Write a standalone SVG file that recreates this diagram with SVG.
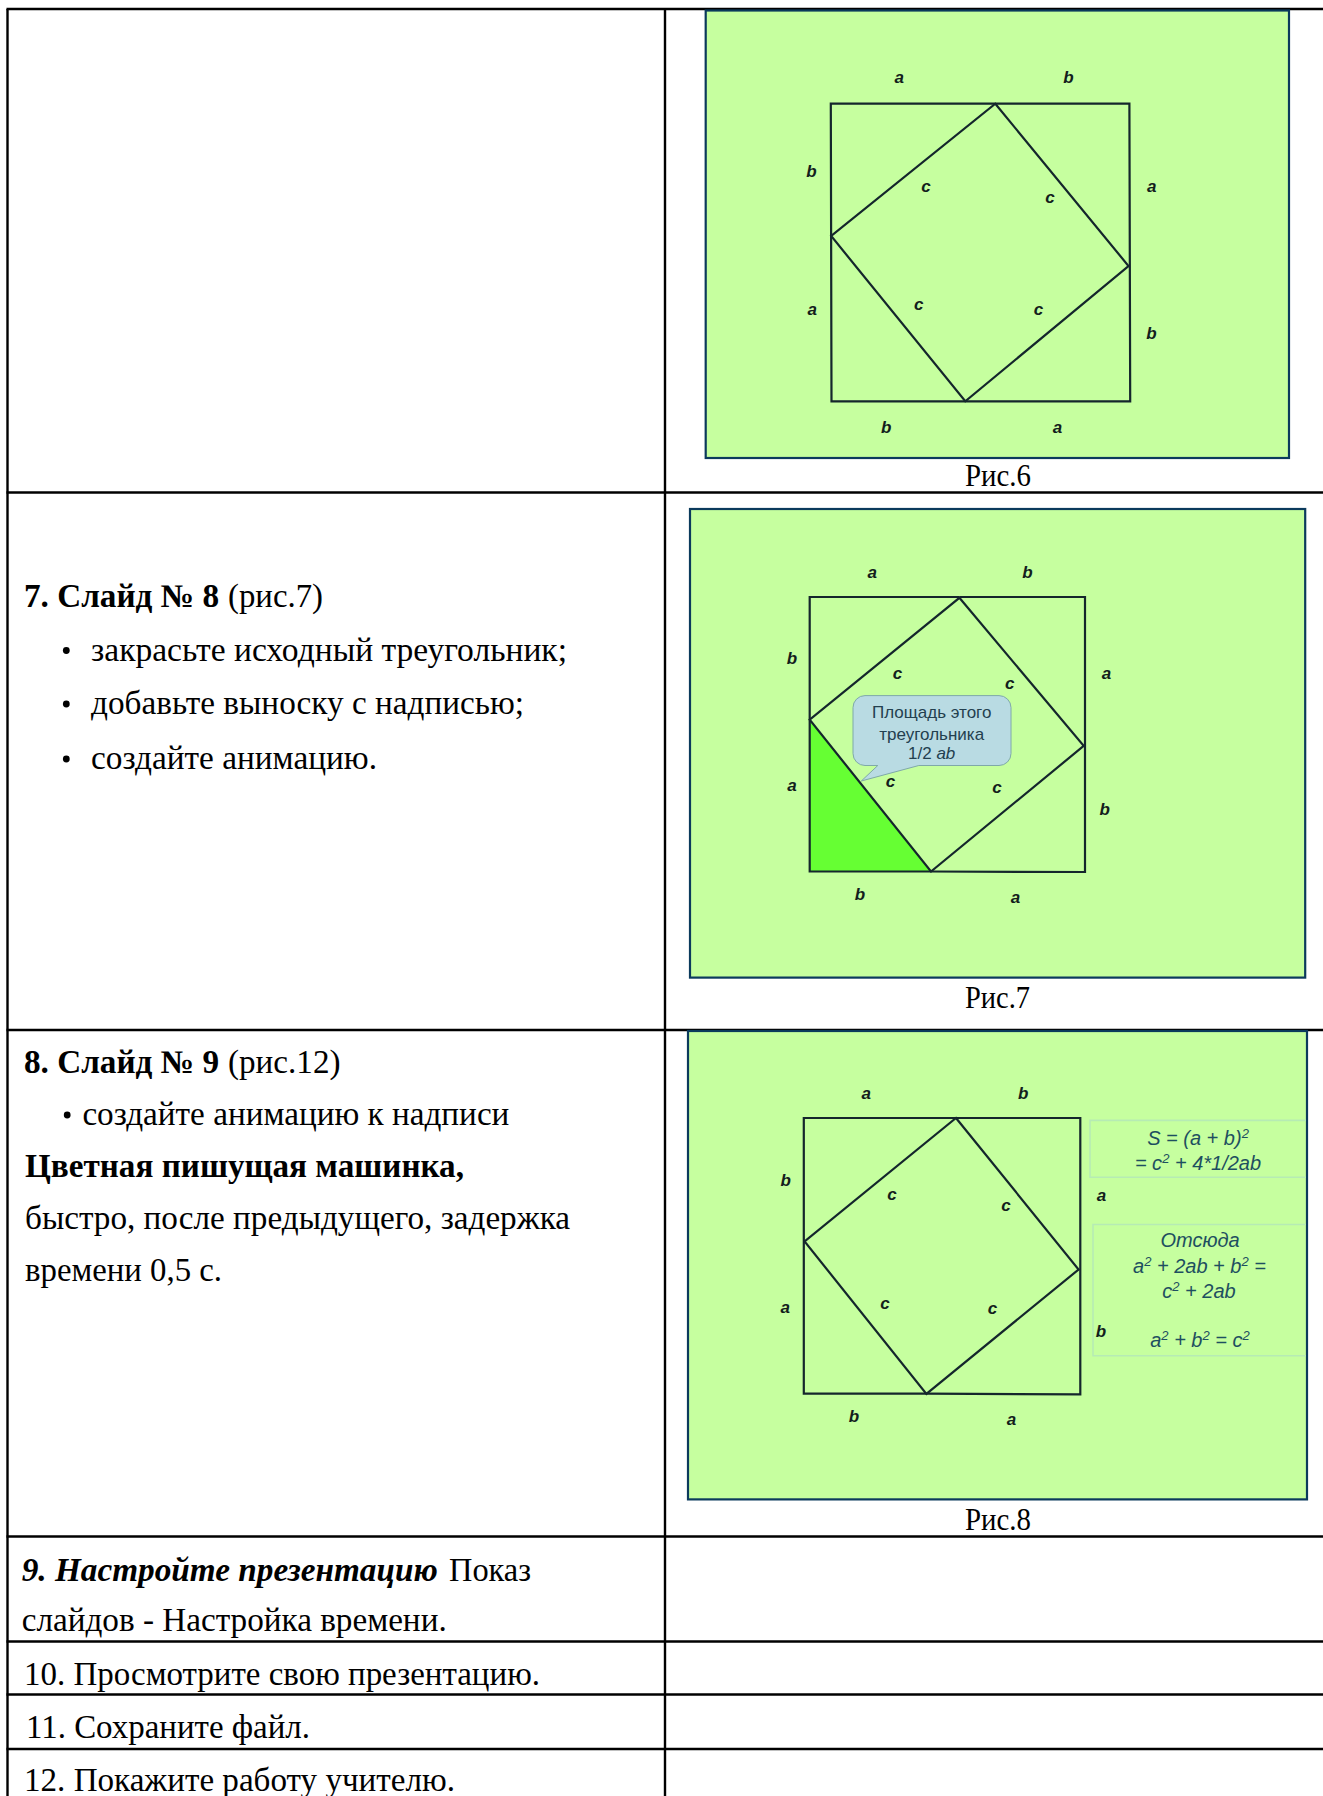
<svg xmlns="http://www.w3.org/2000/svg" width="1323" height="1796" viewBox="0 0 1323 1796">
<style>
.t{font-family:"Liberation Serif","Times New Roman",serif;font-size:33px;fill:#000}
.b{font-weight:bold}
.bi{font-weight:bold;font-style:italic}
.cap{font-family:"Liberation Serif","Times New Roman",serif;font-size:32px;fill:#000}
.grid{stroke:#000;stroke-width:2.4;fill:none}
.slide{fill:#c6ff9f;stroke:#0b3a5c;stroke-width:2.2}
.ln{stroke:#14262c;stroke-width:2.2;fill:none;stroke-linejoin:miter}
.l{font-family:"Liberation Sans",Arial,sans-serif;font-size:17px;font-weight:bold;font-style:italic;fill:#12201c;text-anchor:middle}
.f{font-family:"Liberation Sans",Arial,sans-serif;font-size:20px;font-style:italic;fill:#1e4f60;text-anchor:middle}
.s{font-size:13px;baseline-shift:7px}
.box{fill:none;stroke:#b6ebb4;stroke-width:1.6}
.co{font-family:"Liberation Sans",Arial,sans-serif;font-size:17px;fill:#23404f;text-anchor:middle}
</style>

<g id="table-grid" class="grid">
<line x1="7.5" y1="9" x2="7.5" y2="1796"/>
<line x1="665" y1="9" x2="665" y2="1796"/>
<line x1="6.5" y1="9" x2="1323" y2="9"/>
<line x1="6.5" y1="492.5" x2="1323" y2="492.5"/>
<line x1="6.5" y1="1030" x2="1323" y2="1030"/>
<line x1="6.5" y1="1536.5" x2="1323" y2="1536.5"/>
<line x1="6.5" y1="1641.5" x2="1323" y2="1641.5"/>
<line x1="6.5" y1="1694.5" x2="1323" y2="1694.5"/>
<line x1="6.5" y1="1749" x2="1323" y2="1749"/>
</g>

<g id="left-text">
<text class="t b" x="24" y="607" textLength="195" lengthAdjust="spacingAndGlyphs">7. Слайд № 8</text>
<text class="t" x="228" y="607" textLength="95" lengthAdjust="spacingAndGlyphs">(рис.7)</text>
<circle cx="66.3" cy="650.5" r="3.4" fill="#000"/>
<text class="t" x="91" y="661" textLength="476" lengthAdjust="spacingAndGlyphs">закрасьте исходный треугольник;</text>
<circle cx="66.3" cy="704" r="3.4" fill="#000"/>
<text class="t" x="91" y="714.3" textLength="433" lengthAdjust="spacingAndGlyphs">добавьте выноску с надписью;</text>
<circle cx="66.3" cy="759" r="3.4" fill="#000"/>
<text class="t" x="91" y="769.3" textLength="286" lengthAdjust="spacingAndGlyphs">создайте анимацию.</text>

<text class="t b" x="24" y="1073.3" textLength="195" lengthAdjust="spacingAndGlyphs">8. Слайд № 9</text>
<text class="t" x="228" y="1073.3" textLength="112.5" lengthAdjust="spacingAndGlyphs">(рис.12)</text>
<circle cx="67.2" cy="1115" r="3.4" fill="#000"/>
<text class="t" x="82.4" y="1125.3" textLength="427" lengthAdjust="spacingAndGlyphs">создайте анимацию к надписи</text>
<text class="t b" x="25" y="1176.7" textLength="439" lengthAdjust="spacingAndGlyphs">Цветная пишущая машинка,</text>
<text class="t" x="25" y="1229.3" textLength="545" lengthAdjust="spacingAndGlyphs">быстро, после предыдущего, задержка</text>
<text class="t" x="25" y="1281" textLength="197" lengthAdjust="spacingAndGlyphs">времени 0,5 с.</text>

<text class="t bi" x="21.7" y="1581" textLength="416" lengthAdjust="spacingAndGlyphs">9. Настройте презентацию</text>
<text class="t" x="449" y="1581" textLength="82" lengthAdjust="spacingAndGlyphs">Показ</text>
<text class="t" x="21.7" y="1631" textLength="425" lengthAdjust="spacingAndGlyphs">слайдов - Настройка времени.</text>
<text class="t" x="24" y="1685.3" textLength="516" lengthAdjust="spacingAndGlyphs">10. Просмотрите свою презентацию.</text>
<text class="t" x="26" y="1738.3" textLength="284" lengthAdjust="spacingAndGlyphs">11. Сохраните файл.</text>
<text class="t" x="24" y="1791" textLength="431" lengthAdjust="spacingAndGlyphs">12. Покажите работу учителю.</text>
</g>

<g id="slide-6">
<rect class="slide" x="705.7" y="10.5" width="583.3" height="447.5"/>
<polyline class="ln" points="995.3,103.7 830.8,103.7 831.5,401.3 965.3,401.3"/>
<polyline class="ln" points="995.3,103.7 1129.4,103.7 1130.2,401.3 965.3,401.3"/>
<polygon class="ln" points="995.3,103.7 1128.5,266 965.3,401.3 831.2,236"/>
<text class="l" x="899.3" y="83">a</text><text class="l" x="1068.5" y="82.5">b</text>
<text class="l" x="811.4" y="176.7">b</text><text class="l" x="926" y="191.7">c</text>
<text class="l" x="1049.9" y="203">c</text><text class="l" x="1151.8" y="191.7">a</text>
<text class="l" x="812.2" y="314.7">a</text><text class="l" x="918.8" y="309.7">c</text>
<text class="l" x="1038.4" y="314.7">c</text><text class="l" x="1151.4" y="339">b</text>
<text class="l" x="886.2" y="432.7">b</text><text class="l" x="1057.5" y="433.4">a</text>
<text class="cap" x="965" y="486" textLength="66" lengthAdjust="spacingAndGlyphs">Рис.6</text>
</g>

<g id="slide-7">
<rect class="slide" x="690" y="509" width="615.2" height="468.6"/>
<polygon points="809.7,719.7 931,871.5 809.7,871.5" fill="#66ff33"/>
<polyline class="ln" points="959.4,597 809.7,597 809.7,871.5 931,871.5"/>
<polyline class="ln" points="959.4,597 1085,597 1085,872 931,871.5"/>
<polygon class="ln" points="959.4,597.8 1083.7,745.9 931,871.5 809.7,719.7"/>
<path d="M865,695.6H999a12,12 0 0 1 12,12V753.5a12,12 0 0 1 -12,12H918.8L861.3,781L877.8,765.5H865a12,12 0 0 1 -12,-12V707.6a12,12 0 0 1 12,-12Z" fill="#b9dbe3" stroke="#7fa9a8" stroke-width="1"/>
<text class="co" x="931.7" y="718">Площадь этого</text>
<text class="co" x="931.7" y="739.5">треугольника</text>
<text class="co" x="931.7" y="759">1/2 <tspan font-style="italic">ab</tspan></text>
<text class="l" x="872.3" y="577.7">a</text><text class="l" x="1027.4" y="577.7">b</text>
<text class="l" x="791.9" y="664.4">b</text><text class="l" x="897.6" y="678.9">c</text>
<text class="l" x="1009.7" y="689.2">c</text><text class="l" x="1106.5" y="678.9">a</text>
<text class="l" x="791.9" y="791.2">a</text><text class="l" x="890.4" y="787">c</text>
<text class="l" x="997" y="792.5">c</text><text class="l" x="1104.8" y="815.3">b</text>
<text class="l" x="860" y="900.3">b</text><text class="l" x="1015.6" y="902.7">a</text>
<text class="cap" x="965" y="1007.5" textLength="65" lengthAdjust="spacingAndGlyphs">Рис.7</text>
</g>

<g id="slide-8">
<rect class="slide" x="688" y="1031" width="619" height="468.4"/>
<polyline class="ln" points="956,1118 803.8,1118 803.8,1393.6 926.4,1393.6"/>
<polyline class="ln" points="956,1118 1080.3,1118 1080.3,1394.4 926.4,1393.6"/>
<polygon class="ln" points="956,1118 1078.6,1269.5 926.4,1393.9 804.6,1241.4"/>
<text class="l" x="866.3" y="1099.1">a</text><text class="l" x="1023.2" y="1099.1">b</text>
<text class="l" x="785.6" y="1186.3">b</text><text class="l" x="892.1" y="1199.7">c</text>
<text class="l" x="1005.9" y="1211">c</text><text class="l" x="1101.4" y="1200.7">a</text>
<text class="l" x="785.2" y="1313.1">a</text><text class="l" x="885" y="1309">c</text>
<text class="l" x="992.4" y="1314.1">c</text><text class="l" x="1101" y="1337.1">b</text>
<text class="l" x="854" y="1421.9">b</text><text class="l" x="1011.4" y="1424.7">a</text>
<path class="box" d="M1306,1120.4H1090V1177.2H1306"/>
<path class="box" d="M1306,1224.5H1093V1355.7H1306"/>
<text class="f" x="1198" y="1145">S = (a + b)<tspan class="s">2</tspan></text>
<text class="f" x="1198" y="1170">= c<tspan class="s">2</tspan> + 4*1/2ab</text>
<text class="f" x="1200" y="1247.4">Отсюда</text>
<text class="f" x="1199.5" y="1273.4">a<tspan class="s">2</tspan> + 2ab + b<tspan class="s">2</tspan> =</text>
<text class="f" x="1199" y="1298.4">c<tspan class="s">2</tspan> + 2ab</text>
<text class="f" x="1200" y="1346.7">a<tspan class="s">2</tspan> + b<tspan class="s">2</tspan> = c<tspan class="s">2</tspan></text>
<text class="cap" x="965" y="1529.8" textLength="66" lengthAdjust="spacingAndGlyphs">Рис.8</text>
</g>
</svg>
